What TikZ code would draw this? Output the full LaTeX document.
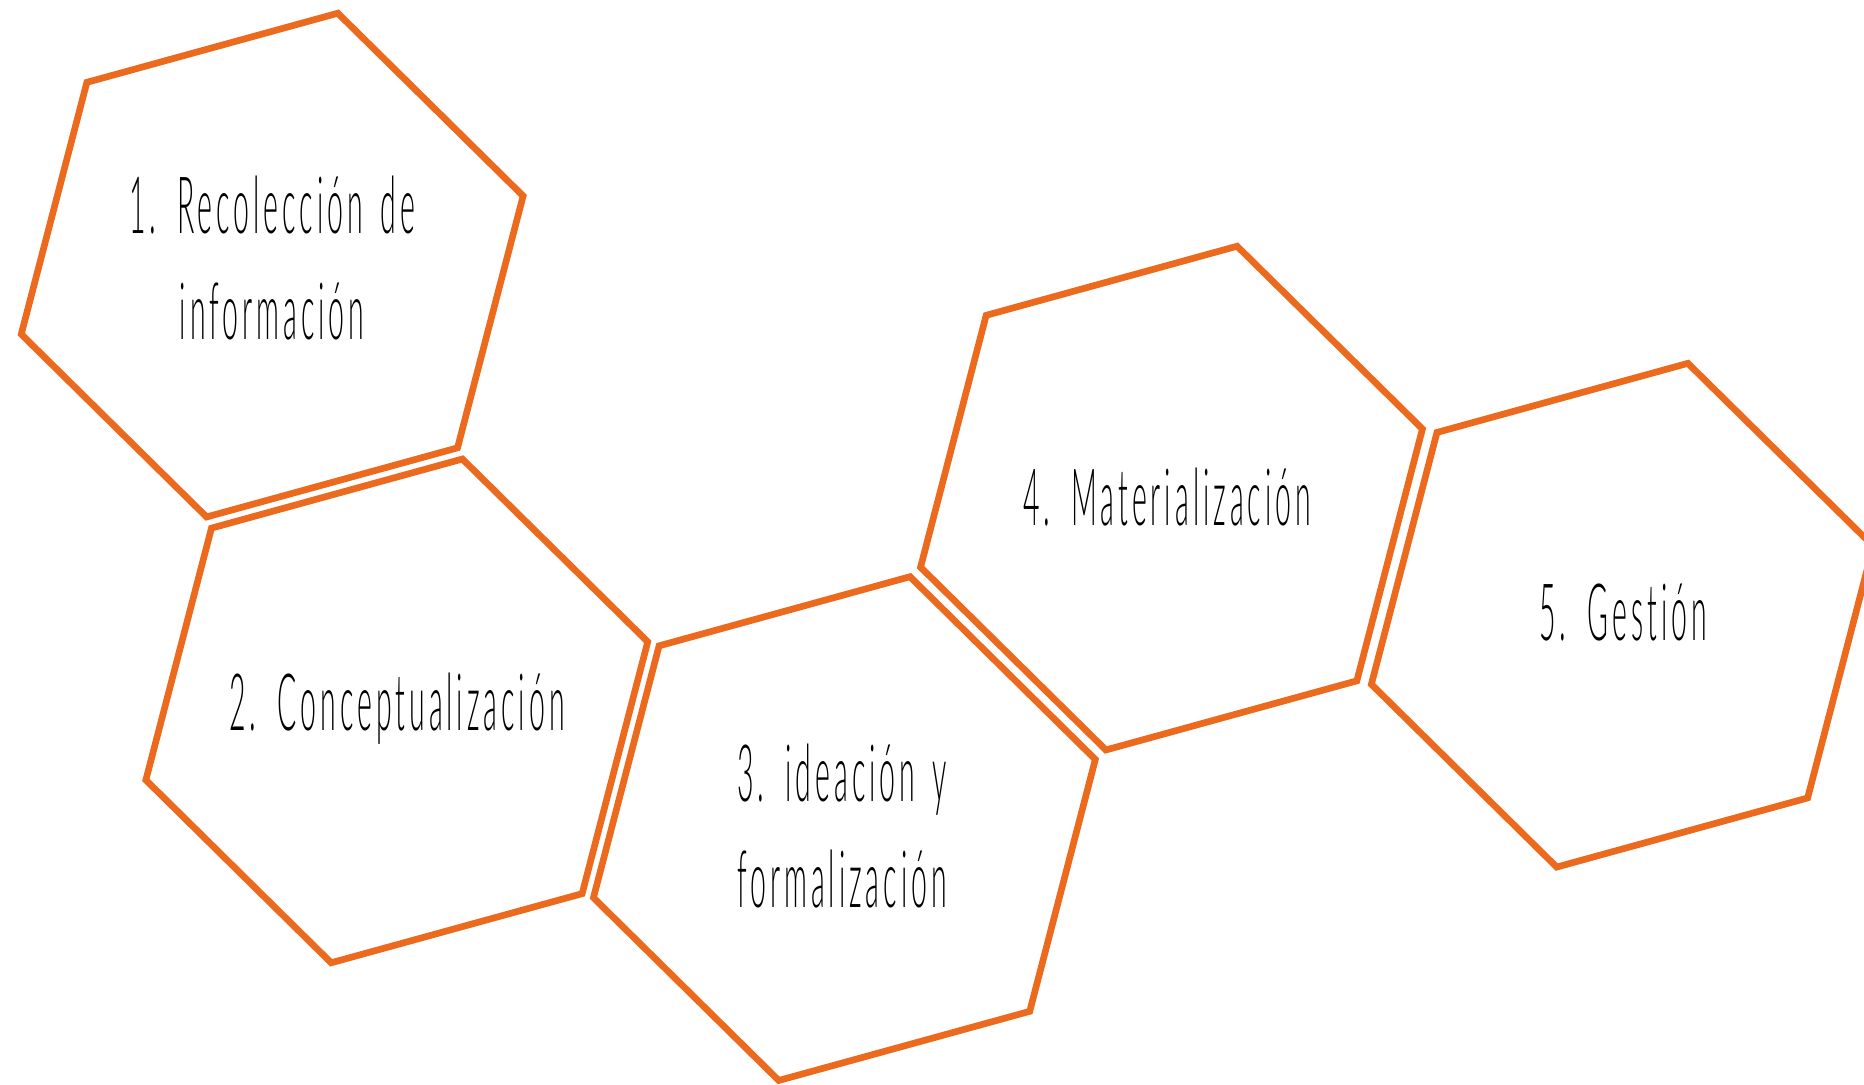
\documentclass[tikz,border=0pt]{standalone}
\usepackage{fontspec}
\newfontfamily\hexfont[FakeStretch=0.36,LetterSpace=5,WordSpace=1.5,
  Ligatures=NoCommon,RawFeature=-liga]{Lato Light}
\definecolor{hexorange}{HTML}{EC6A1E}

\begin{document}
\begin{tikzpicture}[
    hexline/.style={draw=hexorange,line width=1.9pt,line join=miter},
    step label/.style={font=\hexfont\fontsize{22.5}{30.4}\selectfont,
      align=center,inner sep=0pt},
  ]
  \clip (0,0) rectangle (18.64,10.85);
  \foreach \hname/\x/\y in {hex1/2.722/8.199,hex2/3.968/3.741,hex3/8.444/2.564,
      hex4/11.715/5.869,hex5/16.223/4.698}{
    \coordinate (\hname) at (\x,\y);
    \draw[hexline,shift={(\x,\y)}] (15.4:2.603)
      \foreach \k in {1,...,5}{ -- (15.4+60*\k:2.603)} -- cycle;
  }
  \node[step label] (lbl1) at (2.72,8.27) {1. Recolección de\\información};
  \node[step label] (lbl2) at (3.97,3.765) {2. Conceptualización};
  \node[step label] (lbl3) at (8.42,2.59) {3. ideación y\\formalización};
  \node[step label] (lbl4) at (11.67,5.88) {4. Materialización};
  \node[step label] (lbl5) at (16.23,4.72) {5. Gestión};
\end{tikzpicture}
\end{document}
